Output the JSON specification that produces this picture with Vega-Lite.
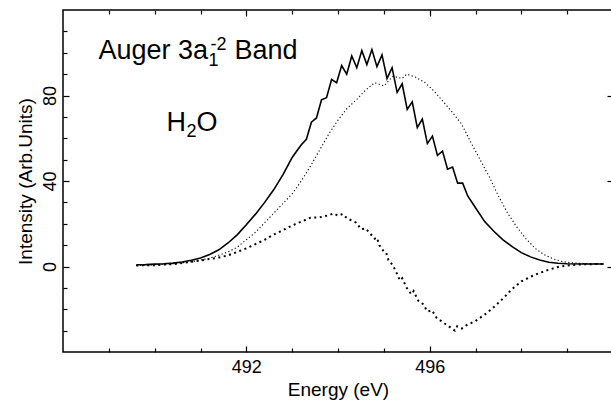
{
  "$schema": "https://vega.github.io/schema/vega-lite/v6.json",
  "width": 550,
  "height": 342,
  "autosize": {"type": "none"},
  "padding": {"left": 63, "top": 10, "right": 0, "bottom": 52},
  "background": "white",
  "config": {
    "view": {"stroke": "black", "strokeWidth": 1.5},
    "font": "Liberation Sans",
    "axis": {"labelFont": "Liberation Sans", "titleFont": "Liberation Sans", "labelColor": "black", "titleColor": "black", "titleFontWeight": "normal", "domain": false, "grid": false, "tickColor": "black", "tickWidth": 1.2, "labelFontSize": 18, "titleFontSize": 19}
  },
  "datasets": {
    "solid": [
      {"energy": 489.6, "intensity": 0.8}, {"energy": 489.8, "intensity": 0.9}, {"energy": 490.0, "intensity": 1.1}, {"energy": 490.2, "intensity": 1.3},
      {"energy": 490.4, "intensity": 1.6}, {"energy": 490.6, "intensity": 2.1}, {"energy": 490.8, "intensity": 2.9}, {"energy": 491.0, "intensity": 4.0},
      {"energy": 491.2, "intensity": 5.6}, {"energy": 491.4, "intensity": 7.8}, {"energy": 491.6, "intensity": 11.0}, {"energy": 491.8, "intensity": 14.8},
      {"energy": 492.0, "intensity": 19.5}, {"energy": 492.2, "intensity": 24.5}, {"energy": 492.4, "intensity": 30.0}, {"energy": 492.6, "intensity": 36.0},
      {"energy": 492.8, "intensity": 43.0}, {"energy": 493.0, "intensity": 51.0}, {"energy": 493.1, "intensity": 54.0},
      {"energy": 493.2, "intensity": 57.0}, {"energy": 493.31, "intensity": 59.5}, {"energy": 493.42, "intensity": 67.5}, {"energy": 493.53, "intensity": 69.5},
      {"energy": 493.64, "intensity": 78.0}, {"energy": 493.75, "intensity": 79.0}, {"energy": 493.86, "intensity": 87.5}, {"energy": 493.97, "intensity": 86.0},
      {"energy": 494.08, "intensity": 94.0}, {"energy": 494.19, "intensity": 90.0}, {"energy": 494.3, "intensity": 98.5}, {"energy": 494.41, "intensity": 93.0},
      {"energy": 494.52, "intensity": 101.0}, {"energy": 494.63, "intensity": 94.5}, {"energy": 494.74, "intensity": 101.5}, {"energy": 494.85, "intensity": 93.5},
      {"energy": 494.96, "intensity": 99.0}, {"energy": 495.07, "intensity": 88.0}, {"energy": 495.18, "intensity": 93.0}, {"energy": 495.29, "intensity": 81.5},
      {"energy": 495.4, "intensity": 85.5}, {"energy": 495.51, "intensity": 73.5}, {"energy": 495.62, "intensity": 77.0}, {"energy": 495.73, "intensity": 65.0},
      {"energy": 495.84, "intensity": 69.0}, {"energy": 495.95, "intensity": 57.5}, {"energy": 496.06, "intensity": 61.0}, {"energy": 496.17, "intensity": 52.0},
      {"energy": 496.28, "intensity": 54.0}, {"energy": 496.39, "intensity": 45.5}, {"energy": 496.5, "intensity": 46.5}, {"energy": 496.61, "intensity": 39.0},
      {"energy": 496.72, "intensity": 39.0}, {"energy": 496.83, "intensity": 33.0}, {"energy": 497.0, "intensity": 27.5}, {"energy": 497.2, "intensity": 21.0},
      {"energy": 497.4, "intensity": 16.5}, {"energy": 497.6, "intensity": 12.5}, {"energy": 497.8, "intensity": 9.3}, {"energy": 498.0, "intensity": 6.5},
      {"energy": 498.2, "intensity": 4.5}, {"energy": 498.4, "intensity": 3.0}, {"energy": 498.6, "intensity": 2.0}, {"energy": 498.8, "intensity": 1.5},
      {"energy": 499.0, "intensity": 1.3}, {"energy": 499.4, "intensity": 1.2}, {"energy": 499.8, "intensity": 1.2}
    ],
    "fine": [
      {"energy": 489.6, "intensity": 0.5}, {"energy": 490.0, "intensity": 0.8}, {"energy": 490.4, "intensity": 1.3}, {"energy": 490.8, "intensity": 2.2},
      {"energy": 491.2, "intensity": 3.8}, {"energy": 491.6, "intensity": 6.8}, {"energy": 491.8, "intensity": 9.0}, {"energy": 492.0, "intensity": 12.5},
      {"energy": 492.2, "intensity": 16.0}, {"energy": 492.4, "intensity": 20.5}, {"energy": 492.6, "intensity": 25.0}, {"energy": 492.8, "intensity": 29.5},
      {"energy": 493.0, "intensity": 34.0}, {"energy": 493.2, "intensity": 40.0}, {"energy": 493.4, "intensity": 47.0}, {"energy": 493.6, "intensity": 54.5},
      {"energy": 493.8, "intensity": 62.0}, {"energy": 494.0, "intensity": 68.5}, {"energy": 494.2, "intensity": 74.0}, {"energy": 494.4, "intensity": 78.0},
      {"energy": 494.6, "intensity": 82.5}, {"energy": 494.8, "intensity": 86.0}, {"energy": 495.0, "intensity": 84.5}, {"energy": 495.2, "intensity": 89.0},
      {"energy": 495.4, "intensity": 88.0}, {"energy": 495.5, "intensity": 90.0}, {"energy": 495.7, "intensity": 88.5}, {"energy": 495.9, "intensity": 86.0},
      {"energy": 496.1, "intensity": 82.0}, {"energy": 496.3, "intensity": 77.0}, {"energy": 496.5, "intensity": 72.0}, {"energy": 496.7, "intensity": 66.5},
      {"energy": 496.9, "intensity": 58.0}, {"energy": 497.1, "intensity": 50.0}, {"energy": 497.3, "intensity": 42.0}, {"energy": 497.5, "intensity": 33.0},
      {"energy": 497.7, "intensity": 25.0}, {"energy": 497.9, "intensity": 18.5}, {"energy": 498.1, "intensity": 13.0}, {"energy": 498.3, "intensity": 8.5},
      {"energy": 498.5, "intensity": 5.5}, {"energy": 498.7, "intensity": 3.5}, {"energy": 498.9, "intensity": 2.3}, {"energy": 499.1, "intensity": 1.7},
      {"energy": 499.4, "intensity": 1.4}, {"energy": 499.8, "intensity": 1.3}
    ],
    "diff": [
      {"energy": 489.6, "intensity": 0.5}, {"energy": 490.0, "intensity": 0.6}, {"energy": 490.5, "intensity": 1.3}, {"energy": 491.0, "intensity": 2.8},
      {"energy": 491.4, "intensity": 4.2}, {"energy": 491.6, "intensity": 5.2}, {"energy": 491.8, "intensity": 6.8}, {"energy": 492.0, "intensity": 8.5},
      {"energy": 492.2, "intensity": 10.5}, {"energy": 492.4, "intensity": 12.5}, {"energy": 492.6, "intensity": 15.0}, {"energy": 492.8, "intensity": 17.0},
      {"energy": 493.0, "intensity": 19.2}, {"energy": 493.2, "intensity": 21.0}, {"energy": 493.4, "intensity": 22.8}, {"energy": 493.6, "intensity": 23.0},
      {"energy": 493.8, "intensity": 24.0}, {"energy": 493.9, "intensity": 24.8}, {"energy": 494.0, "intensity": 23.8}, {"energy": 494.1, "intensity": 24.5},
      {"energy": 494.2, "intensity": 22.5}, {"energy": 494.3, "intensity": 21.5}, {"energy": 494.4, "intensity": 20.5}, {"energy": 494.5, "intensity": 17.5},
      {"energy": 494.6, "intensity": 17.8}, {"energy": 494.7, "intensity": 15.5}, {"energy": 494.8, "intensity": 13.0}, {"energy": 494.85, "intensity": 13.5},
      {"energy": 494.9, "intensity": 10.0}, {"energy": 495.0, "intensity": 7.0}, {"energy": 495.05, "intensity": 6.5}, {"energy": 495.1, "intensity": 3.0},
      {"energy": 495.2, "intensity": 0.5}, {"energy": 495.3, "intensity": -4.0}, {"energy": 495.35, "intensity": -6.5}, {"energy": 495.4, "intensity": -5.5},
      {"energy": 495.5, "intensity": -10.0}, {"energy": 495.6, "intensity": -13.0}, {"energy": 495.65, "intensity": -11.5}, {"energy": 495.75, "intensity": -16.0},
      {"energy": 495.85, "intensity": -17.5}, {"energy": 495.95, "intensity": -21.0}, {"energy": 496.05, "intensity": -20.5}, {"energy": 496.15, "intensity": -24.0},
      {"energy": 496.25, "intensity": -25.5}, {"energy": 496.35, "intensity": -27.0}, {"energy": 496.45, "intensity": -28.5}, {"energy": 496.55, "intensity": -30.0},
      {"energy": 496.6, "intensity": -28.0}, {"energy": 496.7, "intensity": -29.0}, {"energy": 496.8, "intensity": -27.5}, {"energy": 497.0, "intensity": -25.5},
      {"energy": 497.2, "intensity": -22.5}, {"energy": 497.4, "intensity": -19.0}, {"energy": 497.6, "intensity": -15.0}, {"energy": 497.8, "intensity": -10.5},
      {"energy": 498.0, "intensity": -7.0}, {"energy": 498.2, "intensity": -4.8}, {"energy": 498.4, "intensity": -3.0}, {"energy": 498.6, "intensity": -1.5},
      {"energy": 498.8, "intensity": -0.2}, {"energy": 499.0, "intensity": 0.5}, {"energy": 499.3, "intensity": 1.0}, {"energy": 499.8, "intensity": 1.2}
    ],
    "bigText": [
      {"label": "Auger", "energy": 488.775, "intensity": 97.1},
      {"label": "3a", "energy": 490.509, "intensity": 97.1},
      {"label": "Band", "energy": 491.74, "intensity": 97.1},
      {"label": "H", "energy": 490.258, "intensity": 63.4},
      {"label": "O", "energy": 490.913, "intensity": 63.4}
    ],
    "smallText": [
      {"label": "1", "energy": 491.175, "intensity": 93.6},
      {"label": "-2", "energy": 491.22, "intensity": 101.5},
      {"label": "2", "energy": 490.695, "intensity": 60.6}
    ]
  },
  "layer": [
    {
      "data": {"name": "solid"},
      "mark": {"type": "line", "color": "black", "strokeWidth": 1.6},
      "encoding": {
        "x": {"field": "energy", "type": "quantitative", "scale": {"domain": [488, 500], "nice": false, "zero": false},
          "axis": {"orient": "bottom", "values": [489, 490, 491, 492, 493, 494, 495, 496, 497, 498, 499],
            "labelExpr": "datum.value == 492 || datum.value == 496 ? datum.label : ''",
            "tickSize": {"condition": {"test": "datum.value == 492 || datum.value == 496", "value": -6}, "value": -4},
            "labelPadding": 12, "title": "Energy (eV)", "titlePadding": 4}},
        "y": {"field": "intensity", "type": "quantitative", "scale": {"domain": [-40, 120], "nice": false, "zero": false},
          "axis": {"orient": "left", "values": [-30, -20, -10, 0, 10, 20, 30, 40, 50, 60, 70, 80, 90, 100, 110],
            "labelExpr": "datum.value == 0 || datum.value == 40 || datum.value == 80 ? datum.label : ''",
            "tickSize": {"condition": {"test": "datum.value == 0 || datum.value == 40 || datum.value == 80", "value": -6}, "value": -4},
            "labelAngle": -90, "labelPadding": 10, "title": "Intensity (Arb.Units)", "titlePadding": 6}}
      }
    },
    {
      "data": {"name": "fine"},
      "mark": {"type": "line", "color": "black", "strokeWidth": 1.1, "strokeDash": [1.2, 2.4]},
      "encoding": {
        "x": {"field": "energy", "type": "quantitative", "scale": {"domain": [488, 500], "nice": false, "zero": false},
          "axis": {"orient": "top", "values": [489, 490, 491, 492, 493, 494, 495, 496, 497, 498, 499], "labels": false, "title": null,
            "tickSize": {"condition": {"test": "datum.value == 492 || datum.value == 496", "value": -6}, "value": -4}}},
        "y": {"field": "intensity", "type": "quantitative", "scale": {"domain": [-40, 120], "nice": false, "zero": false},
          "axis": {"orient": "right", "values": [0, 40, 80], "labels": false, "title": null, "tickSize": -6}}
      }
    },
    {
      "data": {"name": "diff"},
      "mark": {"type": "line", "color": "black", "strokeWidth": 2, "strokeDash": [2, 3.5]},
      "encoding": {
        "x": {"field": "energy", "type": "quantitative", "scale": {"domain": [488, 500], "nice": false, "zero": false}, "axis": null},
        "y": {"field": "intensity", "type": "quantitative", "scale": {"domain": [-40, 120], "nice": false, "zero": false}, "axis": null}
      }
    },
    {
      "data": {"name": "bigText"},
      "mark": {"type": "text", "color": "black", "font": "Liberation Sans", "fontSize": 27, "align": "left", "baseline": "alphabetic"},
      "encoding": {
        "x": {"field": "energy", "type": "quantitative", "scale": {"domain": [488, 500], "nice": false, "zero": false}, "axis": null},
        "y": {"field": "intensity", "type": "quantitative", "scale": {"domain": [-40, 120], "nice": false, "zero": false}, "axis": null},
        "text": {"field": "label"}
      }
    },
    {
      "data": {"name": "smallText"},
      "mark": {"type": "text", "color": "black", "font": "Liberation Sans", "fontSize": 18, "align": "left", "baseline": "alphabetic"},
      "encoding": {
        "x": {"field": "energy", "type": "quantitative", "scale": {"domain": [488, 500], "nice": false, "zero": false}, "axis": null},
        "y": {"field": "intensity", "type": "quantitative", "scale": {"domain": [-40, 120], "nice": false, "zero": false}, "axis": null},
        "text": {"field": "label"}
      }
    }
  ],
  "resolve": {"axis": {"x": "independent", "y": "independent"}}
}
